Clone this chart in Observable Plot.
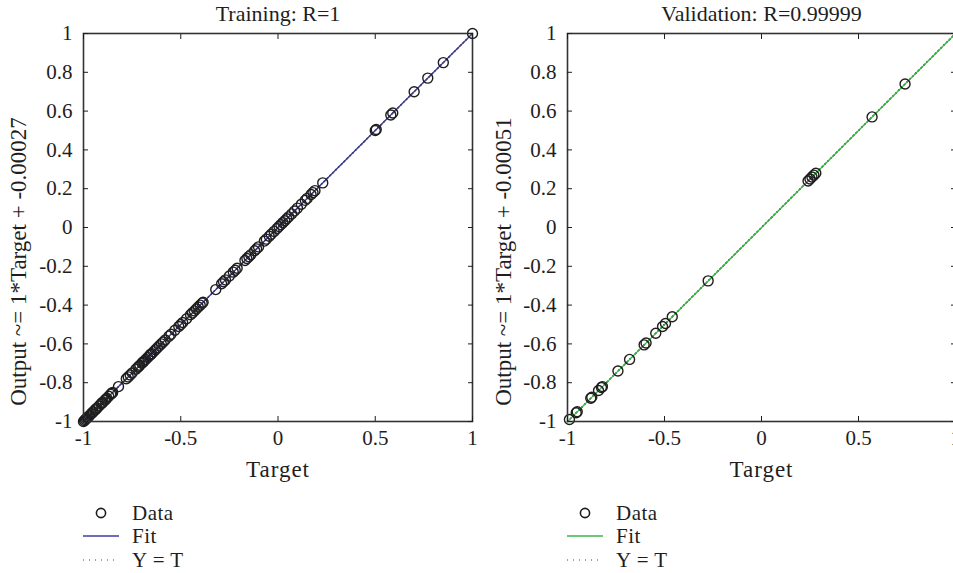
<!DOCTYPE html>
<html><head><meta charset="utf-8">
<script src="https://cdn.jsdelivr.net/npm/d3@7"></script>
<script src="https://cdn.jsdelivr.net/npm/@observablehq/plot@0.6"></script>
<style>
body{margin:0;background:#fff;font-family:"Liberation Serif",serif;}
#wrap{position:relative;width:953px;height:573px;overflow:hidden;background:#fff;}
.panel{position:absolute;top:0;}
#legend{position:absolute;left:0;top:0;}
g[aria-label="x-axis label"]{font-size:23px;letter-spacing:1px;}
g[aria-label="ylab"]{letter-spacing:1.5px;}
</style></head><body><div id="wrap"></div>
<script>
// ---- data ----
const xTicks = [-1, -0.5, 0, 0.5, 1];
const yTicks = [-1, -0.8, -0.6, -0.4, -0.2, 0, 0.2, 0.4, 0.6, 0.8, 1];

const trainTarget = [-1, -0.995, -0.99, -0.985, -0.98, -0.975, -0.97, -0.96, -0.955, -0.95, -0.94, -0.935, -0.93, -0.92, -0.91, -0.905, -0.9, -0.89, -0.885, -0.88, -0.87, -0.86, -0.855, -0.85,
  -0.82, -0.78, -0.77, -0.76, -0.75, -0.73, -0.72, -0.715, -0.71, -0.7, -0.695, -0.69, -0.68, -0.67, -0.66, -0.655, -0.65, -0.64, -0.63, -0.62, -0.61, -0.6, -0.59, -0.58, -0.56, -0.55, -0.53, -0.51, -0.5, -0.49, -0.47, -0.45, -0.44, -0.43, -0.42, -0.41, -0.4, -0.39, -0.385,
  -0.32, -0.29, -0.28, -0.27, -0.25, -0.23, -0.22, -0.21, -0.17, -0.16, -0.15, -0.14, -0.12, -0.11, -0.1, -0.07, -0.06, -0.045, -0.035, -0.02, -0.005, 0.005, 0.015, 0.025, 0.035, 0.045, 0.055, 0.07, 0.085, 0.1, 0.12, 0.14, 0.15, 0.17, 0.18, 0.19, 0.23,
  0.5, 0.505, 0.58, 0.59, 0.7, 0.77, 0.85, 1];
const trainOutput = [-1, -0.995, -0.99, -0.985, -0.98, -0.975, -0.97, -0.96, -0.955, -0.95, -0.94, -0.935, -0.93, -0.92, -0.91, -0.905, -0.9, -0.89, -0.885, -0.88, -0.87, -0.86, -0.855, -0.85,
  -0.82, -0.78, -0.77, -0.76, -0.75, -0.73, -0.72, -0.715, -0.71, -0.7, -0.695, -0.69, -0.68, -0.67, -0.66, -0.655, -0.65, -0.64, -0.63, -0.62, -0.61, -0.6, -0.59, -0.58, -0.56, -0.55, -0.53, -0.51, -0.5, -0.49, -0.47, -0.45, -0.44, -0.43, -0.42, -0.41, -0.4, -0.39, -0.385,
  -0.32, -0.29, -0.28, -0.27, -0.25, -0.23, -0.22, -0.21, -0.17, -0.16, -0.15, -0.14, -0.12, -0.11, -0.1, -0.07, -0.06, -0.045, -0.035, -0.02, -0.005, 0.005, 0.015, 0.025, 0.035, 0.045, 0.055, 0.07, 0.085, 0.1, 0.12, 0.14, 0.15, 0.17, 0.18, 0.19, 0.23,
  0.5, 0.505, 0.58, 0.59, 0.7, 0.77, 0.85, 1];

const valTarget = [-0.99, -0.955, -0.95, -0.88, -0.875, -0.84, -0.825, -0.82, -0.74, -0.68, -0.605, -0.595, -0.545, -0.51, -0.495, -0.46, -0.275, 0.24, 0.25, 0.26, 0.27, 0.28, 0.57, 0.74];
const valOutput = [-0.99, -0.955, -0.95, -0.88, -0.875, -0.84, -0.825, -0.82, -0.74, -0.68, -0.605, -0.595, -0.545, -0.51, -0.495, -0.46, -0.275, 0.24, 0.25, 0.26, 0.27, 0.28, 0.57, 0.74];

const lineX = [-1, 1];
const trainFitY = [-1.00027, 0.99973];
const valFitY = [-1.00051, 0.99949];
const identityY = [-1, 1];

const titles = ["Training: R=1", "Validation: R=0.99999"];
const yLabels = ["Output ~= 1*Target + -0.00027", "Output ~= 1*Target + -0.00051"];
const fitColors = ["#3c3ca2", "#3db54a"];
const legendLabels = ["Data", "Fit", "Y = T"];

// ---- drawing ----
const FONT = "Liberation Serif, Times New Roman, serif";
const INK = "#1e1e1e";

function panel(target, output, fitY, title, ylabel, color, ml, mr, labDx) {
  const pts = target.map((t, i) => ({t, o: output[i]}));
  const fit = lineX.map((x, i) => ({x, y: fitY[i]}));
  const ident = lineX.map((x, i) => ({x, y: identityY[i]}));
  return Plot.plot({
    width: 480, height: 480,
    marginTop: 33, marginBottom: 59, marginLeft: ml, marginRight: mr,
    style: {fontFamily: FONT, fontSize: "21px", color: INK, background: "transparent", overflow: "visible"},
    x: {domain: [-1, 1]},
    y: {domain: [-1, 1]},
    marks: [
      Plot.line(ident, {x: "x", y: "y", stroke: INK, strokeDasharray: "1,3"}),
      Plot.line(fit, {x: "x", y: "y", stroke: color, strokeWidth: 1.3}),
      Plot.dot(pts, {x: "t", y: "o", r: 5, stroke: INK, strokeWidth: 1.4, fill: "none"}),
      Plot.frame({stroke: "#333", strokeWidth: 1.6}),
      Plot.axisX({anchor: "bottom", ticks: xTicks, tickSize: -5, tickPadding: 14, tickFormat: d => String(d),
        label: "Target", labelAnchor: "center", labelOffset: 55, labelArrow: "none", fontSize: 21}),
      Plot.axisX({anchor: "top", ticks: xTicks, tickSize: -5, tickFormat: () => "", label: null}),
      Plot.axisY({anchor: "left", ticks: yTicks, tickSize: -5, tickPadding: 16, tickFormat: d => String(d),
        label: null, fontSize: 21}),
      Plot.axisY({anchor: "right", ticks: yTicks, tickSize: -5, tickFormat: () => "", label: null}),
      Plot.text([ylabel], {frameAnchor: "left", rotate: -90, dx: labDx, dy: 34, fontSize: 23, fill: INK,
        textAnchor: "middle", lineAnchor: "middle", ariaLabel: "ylab"}),
      Plot.text([title], {frameAnchor: "top", dy: -28, fontSize: 22, fill: INK})
    ]
  });
}

const wrap = document.getElementById("wrap");
const p1 = panel(trainTarget, trainOutput, trainFitY, titles[0], yLabels[0], fitColors[0], 83, 8, -65);
p1.classList.add("panel"); p1.style.left = "0px";
wrap.appendChild(p1);
const p2 = panel(valTarget, valOutput, valFitY, titles[1], yLabels[1], fitColors[1], 87, 5, -64);
p2.classList.add("panel"); p2.style.left = "480px";
wrap.appendChild(p2);

// legends
const ns = "http://www.w3.org/2000/svg";
const lg = document.createElementNS(ns, "svg");
lg.setAttribute("id", "legend");
lg.setAttribute("width", 953); lg.setAttribute("height", 573);
const rows = [513, 536, 560];
[83, 567].forEach((x0, k) => {
  const c = document.createElementNS(ns, "circle");
  c.setAttribute("cx", x0 + 18); c.setAttribute("cy", rows[0]); c.setAttribute("r", 4.6);
  c.setAttribute("fill", "none"); c.setAttribute("stroke", INK); c.setAttribute("stroke-width", 1.6);
  lg.appendChild(c);
  const l = document.createElementNS(ns, "line");
  l.setAttribute("x1", x0); l.setAttribute("x2", x0 + 36); l.setAttribute("y1", rows[1]); l.setAttribute("y2", rows[1]);
  l.setAttribute("stroke", fitColors[k]); l.setAttribute("stroke-width", 1.4);
  lg.appendChild(l);
  const d = document.createElementNS(ns, "line");
  d.setAttribute("x1", x0); d.setAttribute("x2", x0 + 36); d.setAttribute("y1", rows[2]); d.setAttribute("y2", rows[2]);
  d.setAttribute("stroke", "#444"); d.setAttribute("stroke-width", 1.2); d.setAttribute("stroke-dasharray", "1,5");
  lg.appendChild(d);
  legendLabels.forEach((txt, i) => {
    const t = document.createElementNS(ns, "text");
    t.setAttribute("x", x0 + 49); t.setAttribute("y", rows[i] + 7);
    t.setAttribute("font-family", FONT); t.setAttribute("font-size", 21); t.setAttribute("fill", INK);
    t.setAttribute("letter-spacing", "0.5");
    t.textContent = txt;
    lg.appendChild(t);
  });
});
wrap.appendChild(lg);
</script></body></html>
